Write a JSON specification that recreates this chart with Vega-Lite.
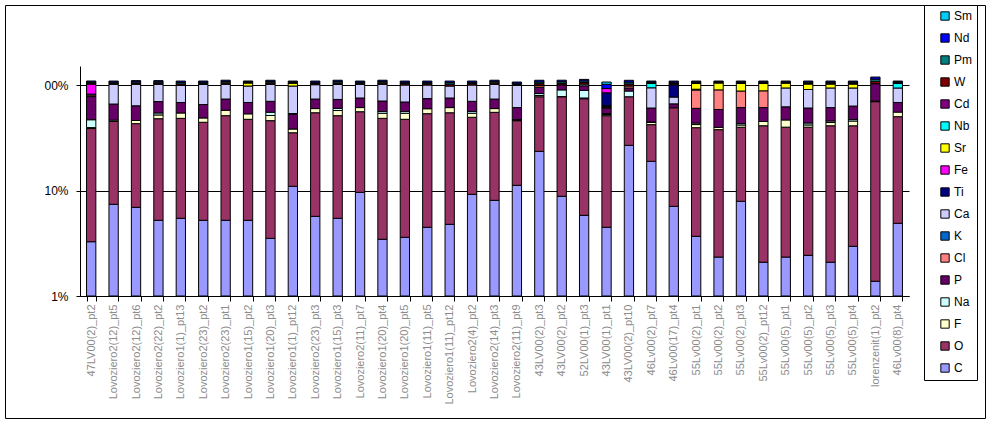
{
  "$schema": "https://vega.github.io/schema/vega-lite/v6.json",
  "width": 980,
  "height": 413,
  "autosize": {"type": "none"},
  "padding": {"left": 5, "top": 5, "right": 8, "bottom": 6},
  "background": "white",
  "config": {"view": {"stroke": "black", "strokeWidth": 1}, "font": "Liberation Sans"},
  "datasets": {
    "elements": [
      {"el": "C", "k": 1}, {"el": "O", "k": 2}, {"el": "F", "k": 3}, {"el": "Na", "k": 4},
      {"el": "P", "k": 5}, {"el": "Cl", "k": 6}, {"el": "K", "k": 7}, {"el": "Ca", "k": 8},
      {"el": "Ti", "k": 9}, {"el": "Fe", "k": 10}, {"el": "Sr", "k": 11}, {"el": "Nb", "k": 12},
      {"el": "Cd", "k": 13}, {"el": "W", "k": 14}, {"el": "Pm", "k": 15}, {"el": "Nd", "k": 16},
      {"el": "Sm", "k": 17}
    ]
  },
  "data": {
    "values": [
      {"s":"47LV00(2)_pt2","C":3.27,"O":35.4,"F":0.8,"Na":7.4,"P":30.9,"Cl":2.6,"Ca":1.6,"Fe":20.1,"W":2.4,"Pm":2.3,"Nd":2.3},
      {"s":"Lovoziero2(12)_pt5","C":7.4,"O":37.7,"F":1.4,"P":19.5,"Ca":35.6,"W":2.5,"Pm":2.5,"Nd":2.4},
      {"s":"Lovoziero2(12)_pt6","C":6.93,"O":36.1,"F":3.1,"P":17.4,"Ca":38.1,"W":2.8,"Pm":2.8,"Nd":2.8},
      {"s":"Lovoziero2(22)_pt2","C":5.22,"O":42.7,"F":4.1,"Na":2.3,"P":15.3,"Ca":32.0,"W":2.8,"Pm":2.8,"Nd":2.8},
      {"s":"Lovoziero1(1)_pt13","C":5.45,"O":42.85,"F":6.0,"P":14.0,"Ca":30.6,"W":3.4,"Pm":3.4,"Nd":3.3},
      {"s":"Lovoziero2(23)_pt2","C":5.22,"O":39.1,"F":4.4,"P":16.6,"Ca":35.8,"W":2.7,"Pm":2.6,"Nd":2.6},
      {"s":"Lovoziero2(23)_pt1","C":5.22,"O":46.0,"F":6.4,"P":16.0,"Ca":28.0,"W":3.2,"Pm":3.1,"Nd":3.1},
      {"s":"Lovoziero1(15)_pt2","C":5.22,"O":42.1,"F":6.0,"P":15.0,"Ca":29.5,"Sr":6.6,"W":1.6,"Pm":1.6,"Nd":1.5},
      {"s":"Lovoziero1(20)_pt3","C":3.52,"O":42.4,"F":5.5,"Na":3.8,"P":14.8,"Ca":31.6,"W":3.1,"Pm":3.1,"Nd":3.1},
      {"s":"Lovoziero1(1)_pt12","C":10.96,"O":24.3,"F":3.0,"P":14.3,"Cl":1.1,"Ca":44.1,"Sr":6.2,"W":1.7,"Pm":1.7,"Nd":1.6},
      {"s":"Lovoziero2(23)_pt3","C":5.69,"O":48.9,"F":5.2,"P":13.8,"Ca":27.1,"W":2.8,"Pm":2.8,"Nd":2.7},
      {"s":"Lovoziero1(15)_pt3","C":5.45,"O":45.75,"F":6.1,"Na":2.7,"P":13.0,"Ca":28.1,"W":3.3,"Pm":3.3,"Nd":3.3},
      {"s":"Lovoziero2(11)_pt7","C":9.61,"O":46.2,"F":5.3,"P":14.2,"Ca":26.3,"W":2.5,"Pm":2.5,"Nd":2.4},
      {"s":"Lovoziero1(20)_pt4","C":3.45,"O":44.85,"F":5.7,"Na":2.1,"P":14.4,"Ca":31.1,"W":3.2,"Pm":3.1,"Nd":3.1},
      {"s":"Lovoziero1(20)_pt5","C":3.6,"O":43.7,"F":6.7,"Na":2.1,"P":12.9,"Ca":31.0,"W":3.0,"Pm":3.0,"Nd":3.0},
      {"s":"Lovoziero1(11)_pt5","C":4.48,"O":49.0,"F":6.1,"P":14.8,"Ca":25.6,"W":3.0,"Pm":3.0,"Nd":3.0},
      {"s":"Lovoziero1(11)_pt12","C":4.78,"O":49.8,"F":6.5,"P":14.2,"Ca":22.5,"W":3.8,"Pm":3.7,"Nd":3.7},
      {"s":"Lovoziero2(4)_pt2","C":9.2,"O":40.2,"F":4.6,"Na":2.1,"P":13.9,"Ca":30.0,"W":3.0,"Pm":3.0,"Nd":3.0},
      {"s":"Lovoziero2(14)_pt3","C":8.07,"O":47.0,"F":4.7,"P":13.8,"Ca":28.0,"W":3.2,"Pm":3.1,"Nd":3.1},
      {"s":"Lovoziero2(11)_pt9","C":11.2,"O":34.7,"F":0.6,"Na":0.5,"P":14.1,"Ca":37.8,"W":2.6,"Pm":2.6,"Nd":2.6},
      {"s":"43LV00(2)_pt3","C":23.5,"O":53.9,"F":2.2,"Na":3.4,"P":12.5,"Cl":3.4,"W":4.0,"Pm":4.0,"Nd":4.0},
      {"s":"43LV00(2)_pt2","C":8.81,"O":68.6,"F":0.3,"Na":12.2,"P":10.1,"W":3.7,"Pm":3.7,"Nd":3.6},
      {"s":"52LV00(1)_pt3","C":5.82,"O":68.3,"F":1.2,"Na":13.5,"P":9.4,"Ca":3.8,"W":3.7,"Pm":3.7,"Nd":3.6},
      {"s":"43LV00(1)_pt1","C":4.48,"O":46.7,"F":1.3,"Na":1.2,"P":6.8,"Cl":1.1,"K":1.1,"Ca":1.1,"Ti":20.6,"Fe":8.2,"Nd":9.0,"Sm":5.1},
      {"s":"43LV00(2)_pt10","C":26.8,"O":50.6,"Na":10.3,"P":6.0,"Cl":4.1,"W":4.4,"Pm":4.3,"Nd":4.3},
      {"s":"46Lv00(2)_pt7","C":18.9,"O":23.2,"F":2.0,"Na":0.5,"P":15.9,"Ca":33.6,"Nb":9.2,"W":1.9,"Pm":1.9,"Nd":1.9},
      {"s":"46Lv00(17)_pt4","C":7.08,"O":53.8,"P":5.4,"Ca":10.6,"Ti":23.5,"W":2.9,"Pm":2.9,"Nd":2.8},
      {"s":"55Lv00(2)_pt1","C":3.68,"O":35.7,"F":2.8,"Na":1.4,"P":16.5,"Cl":29.6,"Ca":1.5,"Sr":12.1,"W":1.9,"Pm":1.9,"Nd":1.9},
      {"s":"55Lv00(2)_pt2","C":2.34,"O":35.4,"F":1.9,"P":19.0,"Cl":31.3,"Sr":14.5,"W":1.6,"Pm":1.5,"Nd":1.5},
      {"s":"55Lv00(2)_pt3","C":7.9,"O":31.9,"F":2.0,"Na":1.3,"P":18.0,"Cl":26.6,"Sr":15.7,"W":1.9,"Pm":1.9,"Nd":1.8},
      {"s":"55Lv00(2)_pt12","C":2.09,"O":39.0,"F":4.0,"P":16.0,"Cl":27.0,"Sr":15.2,"W":1.9,"Pm":1.9,"Nd":1.9},
      {"s":"55Lv00(5)_pt1","C":2.34,"O":37.5,"F":6.8,"P":15.5,"Ca":31.6,"Sr":10.3,"W":1.7,"Pm":1.7,"Nd":1.6},
      {"s":"55Lv00(5)_pt2","C":2.43,"O":37.4,"F":2.0,"Na":1.8,"P":16.9,"Ca":30.1,"Sr":11.5,"W":2.3,"Pm":2.3,"Nd":2.3},
      {"s":"55Lv00(5)_pt3","C":2.09,"O":39.0,"F":3.0,"Na":1.5,"P":15.5,"Ca":32.6,"Sr":8.4,"W":2.3,"Pm":2.3,"Nd":2.3},
      {"s":"55Lv00(5)_pt4","C":2.96,"O":38.1,"F":4.5,"Na":1.5,"P":16.1,"Ca":30.5,"Sr":8.4,"W":2.3,"Pm":2.3,"Nd":2.3},
      {"s":"lorenzenit(1)_pt2","C":1.38,"O":68.1,"F":0.5,"Na":0.5,"P":32.3,"W":5.4,"Pm":5.4,"Nd":5.4},
      {"s":"46Lv00(8)_pt4","C":4.89,"O":45.2,"F":5.3,"P":12.9,"Ca":25.4,"Nb":9.6,"W":1.9,"Pm":1.9,"Nd":1.9}
    ]
  },
  "transform": [
    {"fold": ["C","O","F","Na","P","Cl","K","Ca","Ti","Fe","Sr","Nb","Cd","W","Pm","Nd","Sm"], "as": ["el", "v"]},
    {"filter": "isValid(datum.v)"},
    {"lookup": "el", "from": {"data": {"name": "elements"}, "key": "el", "fields": ["k"]}}
  ],
  "mark": {"type": "bar", "stroke": "black", "strokeWidth": 1},
  "encoding": {
    "x": {
      "field": "s", "type": "nominal", "sort": null,
      "scale": {"range": [75, 904], "paddingInner": 0.585, "paddingOuter": 0.2925},
      "axis": {
        "title": null, "labelAngle": -90, "labelFontSize": 11, "labelColor": "#8c8c8c",
        "tickBand": "extent", "tickColor": "black", "tickSize": 5, "domainColor": "black",
        "offset": -122, "labelPadding": 3, "grid": false, "labelLimit": 200
      }
    },
    "y": {
      "field": "v", "type": "quantitative", "stack": "zero",
      "scale": {"type": "log", "domain": [1, 151.4], "range": [291, 61], "clamp": true},
      "axis": {
        "title": null, "values": [1, 10, 100],
        "labelExpr": "datum.value >= 100 ? '00%' : (datum.value >= 10 ? '10%' : '1%')",
        "grid": true, "gridColor": "black", "gridOpacity": 1, "gridWidth": 1,
        "domainColor": "black", "tickColor": "black", "tickSize": 4,
        "labelFontSize": 12, "labelColor": "black", "labelPadding": 8, "offset": -75
      }
    },
    "color": {
      "field": "el", "type": "nominal",
      "scale": {
        "domain": ["Sm","Nd","Pm","W","Cd","Nb","Sr","Fe","Ti","Ca","K","Cl","P","Na","F","O","C"],
        "range": ["#00CCFF","#0000FF","#008080","#800000","#800080","#00FFFF","#FFFF00","#FF00FF","#000080","#CCCCFF","#0066CC","#FF8080","#660066","#CCFFFF","#FFFFCC","#993366","#9999FF"]
      },
      "legend": {
        "orient": "none", "legendX": 919, "legendY": 0, "title": null,
        "symbolType": "square", "symbolSize": 70, "symbolStrokeColor": "black", "symbolStrokeWidth": 1,
        "symbolOffset": 10, "labelFontSize": 12, "labelColor": "black", "labelOffset": 3,
        "rowPadding": 8, "padding": 5, "strokeColor": "black", "fillColor": "white",
        "labelExpr": "datum.label + '   '"
      }
    },
    "order": {"field": "k", "type": "quantitative"}
  }
}
